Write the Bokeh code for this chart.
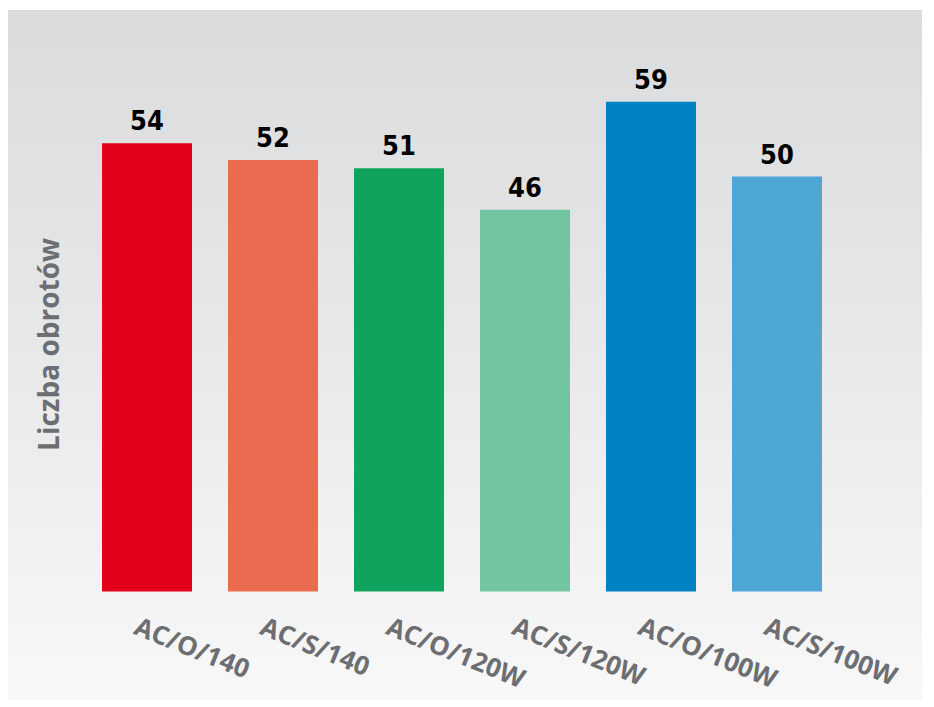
import math
from bokeh.plotting import figure
from bokeh.models import Range1d, ColumnDataSource, InlineStyleSheet, Label
from bokeh.core.properties import value
from bokeh.embed import file_html
from bokeh.resources import INLINE

# ---- data ----
categories = ["AC/O/140", "AC/S/140", "AC/O/120W", "AC/S/120W", "AC/O/100W", "AC/S/100W"]
values = [54, 52, 51, 46, 59, 50]
colors = ["#e2001a", "#eb6b50", "#0fa35e", "#72c5a0", "#0082c4", "#4da6d3"]
y_title = "Liczba obrotów"

# ---- layout (pixels within figure) ----
W, H = 922, 700
first_center_px = 146.5          # bar 1 centre, from figure left
step_px = 126.0                  # distance between bar centres
base_px = 591                    # baseline, from figure top
unit_px = 8.3                    # pixels per value unit

x0 = -first_center_px / step_px
x1 = x0 + W / step_px
y1 = base_px / unit_px
y0 = y1 - H / unit_px

def px_x(px):
    return (px - first_center_px) / step_px

def px_y(py):
    return (base_px - py) / unit_px

idx = list(range(len(categories)))
src = ColumnDataSource(dict(x=idx, top=values, color=colors,
                            label=[str(v) for v in values], cat=categories))

p = figure(width=W, height=H, output_backend="svg", toolbar_location=None,
           x_range=Range1d(x0, x1), y_range=Range1d(y0, y1),
           min_border=0, outline_line_color=None)
p.border_fill_alpha = 0
p.background_fill_alpha = 0
p.stylesheets = [InlineStyleSheet(css=(
    ":host { background-image: linear-gradient(to bottom, #dadbdc 0%, #e6e7e8 45%, #f8f8f8 100%);"
    " background-repeat: no-repeat; background-position: 8px 10px; background-size: 914px 690px; }"))]
p.xaxis.visible = False
p.yaxis.visible = False
p.grid.visible = False

p.vbar(x="x", top="top", width=90 / step_px, color="color", line_color=None, source=src)

p.text(x="x", y="top", text="label", source=src, y_offset=-13,
       text_align="center", text_baseline="bottom",
       text_font=value("DejaVu Sans Condensed"), text_font_style="bold",
       text_font_size="27px", text_color="#000000")

p.text(x="x", y=px_y(607), text="cat", source=src, x_offset=-4,
       angle=-22 * math.pi / 180, text_align="left", text_baseline="top",
       text_font=value("Open Sans"), text_font_style="bold",
       text_font_size="26px", text_color="#6d6e71")

p.add_layout(Label(x=px_x(47), y=px_y(344), text=y_title,
                   angle=math.pi / 2, text_align="center", text_baseline="middle",
                   text_font="Open Sans", text_font_style="bold",
                   text_font_size="28px", text_color="#6d6e71"))

open("out.html", "w").write(file_html(p, INLINE))
